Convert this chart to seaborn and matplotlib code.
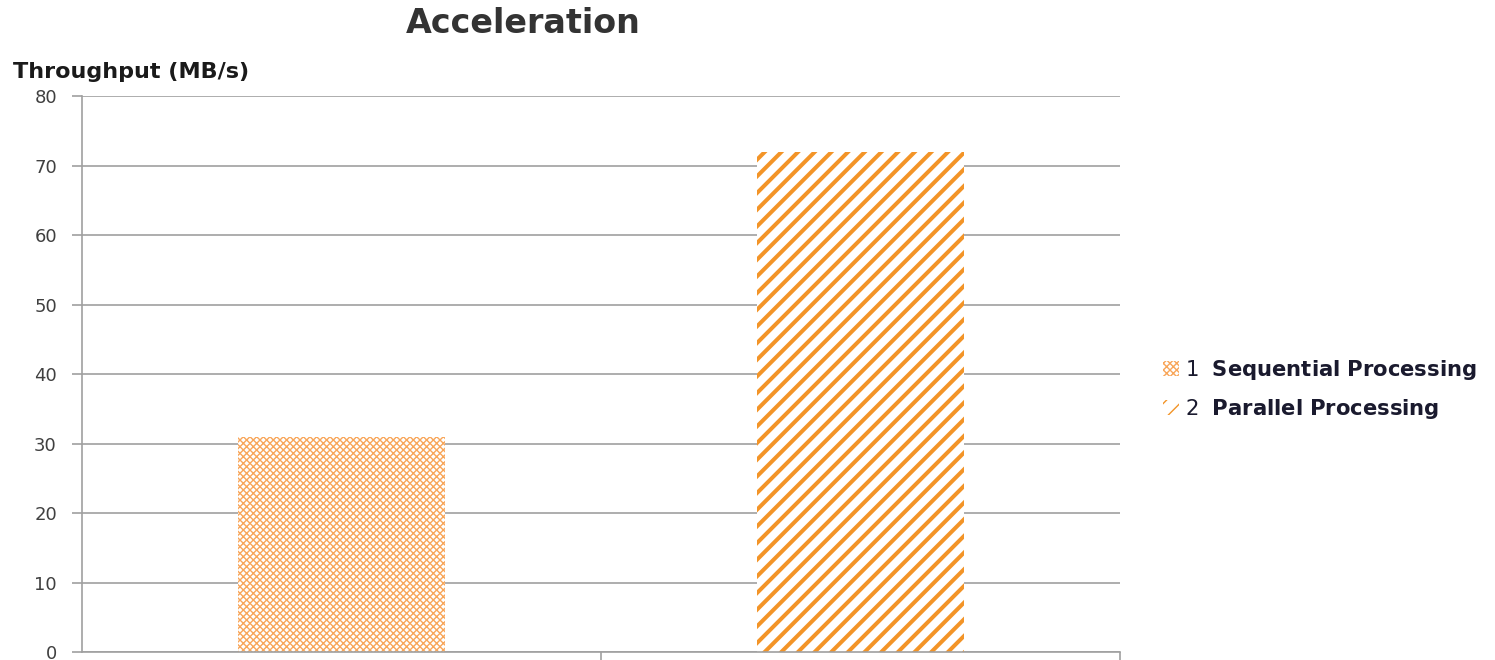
import matplotlib
matplotlib.use("Agg")
import matplotlib.pyplot as plt
import seaborn as sns
import pandas as pd
from matplotlib.patches import Patch

categories = ["1", "2"]
series_names = ["Sequential Processing", "Parallel Processing"]
values = [31, 72]
yticks = [0, 10, 20, 30, 40, 50, 60, 70, 80]

sns.set_theme(style="white")
plt.rcParams['font.family'] = ['DejaVu Sans']
plt.rcParams['mathtext.fontset'] = 'custom'
plt.rcParams['mathtext.bf'] = 'DejaVu Sans:bold'
plt.rcParams['mathtext.rm'] = 'DejaVu Sans'

colors = ["#F8A65A", "#F39427"]
hatches = ["xxxxx", "//"]
hatch_lw = [1.0, 2.9]

df = pd.DataFrame({"cat": categories, "val": values, "name": series_names})

fig = plt.figure(figsize=(14.95, 6.6), dpi=100)
ax = fig.add_axes([0.0548, 0.0121, 0.6944, 0.8424])
sns.barplot(data=df, x="cat", y="val", ax=ax, width=0.4, color="white")

for i, p in enumerate(ax.patches):
    p.set_facecolor("white")
    p.set_edgecolor(colors[i])
    p.set_hatch(hatches[i])
    p.set_linewidth(0)
    p.set_hatch_linewidth(hatch_lw[i])

ax.set_ylim(0, 80)
ax.set_yticks(yticks)
ax.set_xlim(-0.5, 1.5)
ax.set_xticks([0.5, 1.5], minor=False)
ax.set_xticklabels([])
ax.set_xlabel("")
ax.set_ylabel("")
ax.yaxis.grid(True, color="#A0A0A0", linewidth=1.2)
ax.set_axisbelow(True)
for s in ["top", "right"]:
    ax.spines[s].set_visible(False)
for s in ["left", "bottom"]:
    ax.spines[s].set_color("#A0A0A0")
    ax.spines[s].set_linewidth(1.2)
ax.tick_params(axis="y", length=7, width=1.2, color="#A0A0A0", labelsize=13, labelcolor="#404040", left=True, pad=11)
ax.tick_params(axis="x", length=6, width=1.2, color="#A0A0A0", bottom=True, direction="out")

fig.text(0.35, 0.965, "Acceleration", ha="center", va="center", fontsize=24, fontweight="bold", color="#333333")
fig.text(0.009, 0.891, "Throughput (MB/s)", ha="left", va="center", fontsize=16, fontweight="bold", color="#1a1a1a")

handles = [Patch(facecolor="white", edgecolor=colors[i], hatch=hatches[i], linewidth=0) for i in range(2)]
labels = [f"{categories[i]}  $\\bf{{{series_names[i].replace(' ', chr(92) + ' ')}}}$" for i in range(2)]
leg = fig.legend(handles, labels, loc="center left", bbox_to_anchor=(0.765, 0.41), frameon=False,
                 fontsize=15.2, handlelength=0.75, handleheight=0.75, handletextpad=0.3, labelspacing=0.7)
for t in leg.get_texts():
    t.set_color("#1a1a2e")

fig.savefig("out.png", dpi=100)
